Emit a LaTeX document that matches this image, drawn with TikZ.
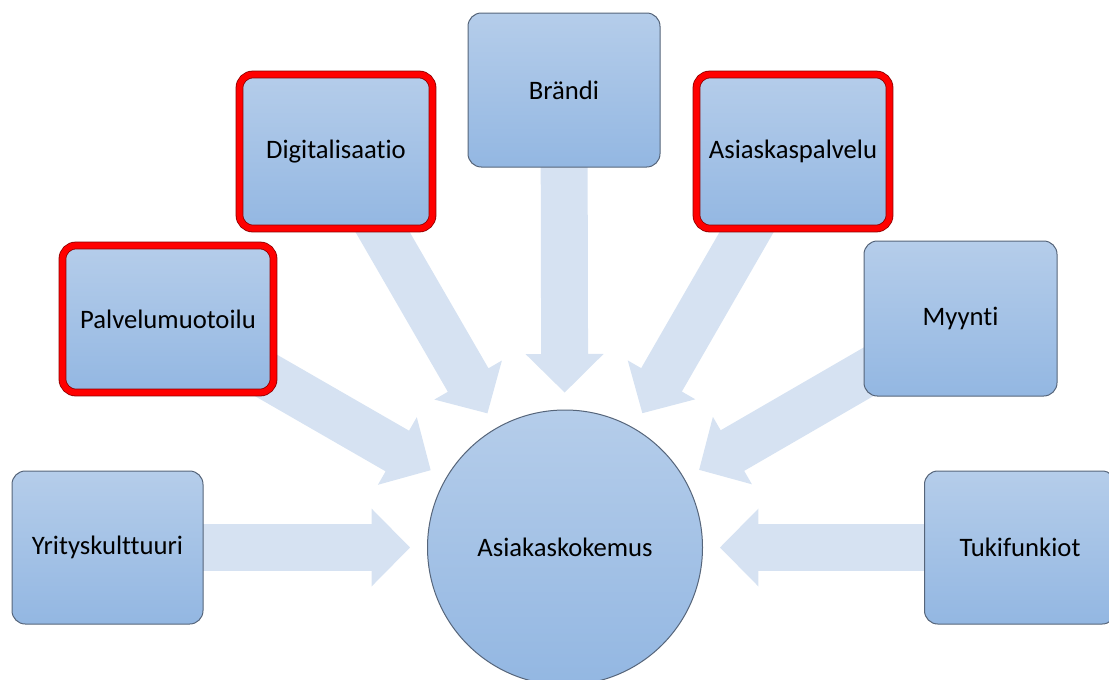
\documentclass[tikz,border=0pt]{standalone}
\usepackage{fontspec}
\setmainfont{Carlito}[Ligatures=NoCommon]
\usetikzlibrary{calc}
\pgfdeclarelayer{bg}
\pgfsetlayers{bg,main}
\definecolor{boxtop}{RGB}{181,205,234}
\definecolor{boxbot}{RGB}{147,183,226}
\definecolor{boxline}{RGB}{86,101,122}
\definecolor{spokefill}{RGB}{214,226,242}
\definecolor{hilite}{RGB}{255,0,0}
\definecolor{hiliteedge}{RGB}{140,0,0}
% wide block arrow from a topic box towards the hub
\newcommand\spoke[1]{%
  \path ($(hub.center)!145.1pt!(#1.center)$) coordinate (hb);
  \fill[spokefill]
    ($(hub.center)!116.25pt!(#1.center)$)
    -- ($(hb)!29.25pt!90:(#1.center)$)
    -- ($(hb)!17.6pt!90:(#1.center)$)
    -- ($(#1.center)!17.6pt!-90:(hub.center)$)
    -- ($(#1.center)!17.6pt!90:(hub.center)$)
    -- ($(hb)!17.6pt!-90:(#1.center)$)
    -- ($(hb)!29.25pt!-90:(#1.center)$)
    -- cycle;}
\begin{document}
\begin{tikzpicture}[x=0.75pt,y=-0.75pt,
  label font/.style={font=\fontsize{20pt}{24pt}\selectfont},
  topic/.style={shade, top color=boxtop, bottom color=boxbot,
    draw=boxline, line width=0.75pt, rounded corners=10pt,
    inner sep=0pt, label font, text=black},
  marked/.style={topic, draw=hiliteedge, line width=0.6pt,
    double=hilite, double distance=4.6pt},
  hubstyle/.style={circle, shade, top color=boxtop, bottom color=boxbot,
    draw=boxline, line width=0.75pt, minimum size=206.25pt,
    inner sep=0pt, label font, text=black}]
\clip (0,0) rectangle (1109,679);

\node[hubstyle] (hub) at (565,547.5) {Asiakaskokemus};

\node[topic, minimum width=143.25pt, minimum height=114.75pt] (yk) at (107.5,547.5) {Yrityskulttuuri};
\node[marked, minimum width=158.25pt, minimum height=110.25pt] (pm) at (168,319) {Palvelumuotoilu};
\node[marked, minimum width=144.75pt, minimum height=115.5pt] (dg) at (336,151.5) {Digitalisaatio};
\node[topic, minimum width=144pt, minimum height=115.5pt] (br) at (564,90) {Brändi};
\node[marked, minimum width=144.75pt, minimum height=115.5pt] (ap) at (793,151.5) {Asiaskaspalvelu};
\node[topic, minimum width=144.75pt, minimum height=116.25pt] (my) at (960.5,318.5) {Myynti};
\node[topic, minimum width=143.25pt, minimum height=114.75pt] (tf) at (1020,547.5) {Tukifunkiot};

\begin{pgfonlayer}{bg}
  \foreach \b in {yk,pm,dg,br,ap,my,tf} {\spoke{\b}}
\end{pgfonlayer}
\end{tikzpicture}
\end{document}
